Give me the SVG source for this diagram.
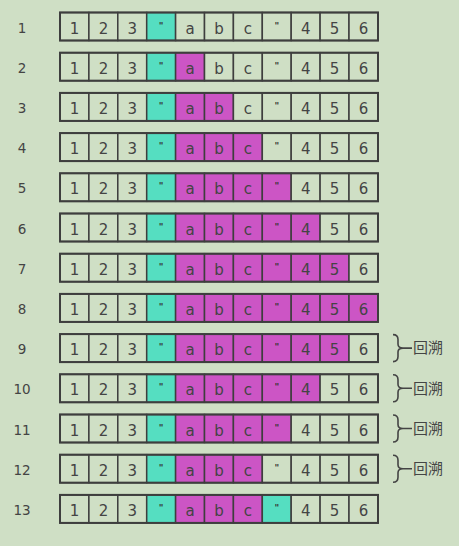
<svg xmlns="http://www.w3.org/2000/svg" width="459" height="546" viewBox="0 0 459 546">
<defs>
<style>
.bg{fill:#CFDFC5}
.c{fill:#CFDFC5;stroke:#3E3E3E;stroke-width:1.5}
.t{fill:#55DEC1;stroke:#3E3E3E;stroke-width:1.5}
.m{fill:#CC55C5;stroke:#3E3E3E;stroke-width:1.5}
.o{fill:none;stroke:#3E3E3E;stroke-width:2}
.x{font-family:"DejaVu Sans",sans-serif;font-size:15px;fill:#444;text-anchor:middle}
.q{font-family:"DejaVu Sans",sans-serif;font-size:9px;font-weight:bold;fill:#333;text-anchor:middle}
.l{font-family:"DejaVu Sans",sans-serif;font-size:13.5px;fill:#444;text-anchor:middle}
.b{fill:none;stroke:#444;stroke-width:1.6}
.h{font-family:"Noto Sans CJK SC",sans-serif;font-size:15px;fill:#444}
</style>
</defs>
<rect class="bg" x="0" y="0" width="459" height="546"/>

<g id="row1" transform="translate(0,12.5)">
<text class="l" x="22" y="20">1</text>
<rect class="c" x="60" y="0" width="28.9" height="28"/><rect class="c" x="88.9" y="0" width="28.9" height="28"/><rect class="c" x="117.8" y="0" width="28.9" height="28"/><rect class="t" x="146.7" y="0" width="28.9" height="28"/><rect class="c" x="175.6" y="0" width="28.9" height="28"/><rect class="c" x="204.5" y="0" width="28.9" height="28"/><rect class="c" x="233.4" y="0" width="28.9" height="28"/><rect class="c" x="262.3" y="0" width="28.9" height="28"/><rect class="c" x="291.2" y="0" width="28.9" height="28"/><rect class="c" x="320.1" y="0" width="28.9" height="28"/><rect class="c" x="349" y="0" width="28.9" height="28"/>
<rect class="o" x="60" y="0" width="318" height="28"/>
<text class="x" y="21"><tspan x="74.5">1</tspan><tspan x="103.4">2</tspan><tspan x="132.3">3</tspan><tspan x="190.1">a</tspan><tspan x="219">b</tspan><tspan x="247.9">c</tspan><tspan x="305.7">4</tspan><tspan x="334.6">5</tspan><tspan x="363.5">6</tspan></text>
<text class="q" y="16"><tspan x="161.2">"</tspan><tspan x="276.8">"</tspan></text>
</g>

<g id="row2" transform="translate(0,52.7)">
<text class="l" x="22" y="20">2</text>
<rect class="c" x="60" y="0" width="28.9" height="28"/><rect class="c" x="88.9" y="0" width="28.9" height="28"/><rect class="c" x="117.8" y="0" width="28.9" height="28"/><rect class="t" x="146.7" y="0" width="28.9" height="28"/><rect class="m" x="175.6" y="0" width="28.9" height="28"/><rect class="c" x="204.5" y="0" width="28.9" height="28"/><rect class="c" x="233.4" y="0" width="28.9" height="28"/><rect class="c" x="262.3" y="0" width="28.9" height="28"/><rect class="c" x="291.2" y="0" width="28.9" height="28"/><rect class="c" x="320.1" y="0" width="28.9" height="28"/><rect class="c" x="349" y="0" width="28.9" height="28"/>
<rect class="o" x="60" y="0" width="318" height="28"/>
<text class="x" y="21"><tspan x="74.5">1</tspan><tspan x="103.4">2</tspan><tspan x="132.3">3</tspan><tspan x="190.1">a</tspan><tspan x="219">b</tspan><tspan x="247.9">c</tspan><tspan x="305.7">4</tspan><tspan x="334.6">5</tspan><tspan x="363.5">6</tspan></text>
<text class="q" y="16"><tspan x="161.2">"</tspan><tspan x="276.8">"</tspan></text>
</g>

<g id="row3" transform="translate(0,92.9)">
<text class="l" x="22" y="20">3</text>
<rect class="c" x="60" y="0" width="28.9" height="28"/><rect class="c" x="88.9" y="0" width="28.9" height="28"/><rect class="c" x="117.8" y="0" width="28.9" height="28"/><rect class="t" x="146.7" y="0" width="28.9" height="28"/><rect class="m" x="175.6" y="0" width="28.9" height="28"/><rect class="m" x="204.5" y="0" width="28.9" height="28"/><rect class="c" x="233.4" y="0" width="28.9" height="28"/><rect class="c" x="262.3" y="0" width="28.9" height="28"/><rect class="c" x="291.2" y="0" width="28.9" height="28"/><rect class="c" x="320.1" y="0" width="28.9" height="28"/><rect class="c" x="349" y="0" width="28.9" height="28"/>
<rect class="o" x="60" y="0" width="318" height="28"/>
<text class="x" y="21"><tspan x="74.5">1</tspan><tspan x="103.4">2</tspan><tspan x="132.3">3</tspan><tspan x="190.1">a</tspan><tspan x="219">b</tspan><tspan x="247.9">c</tspan><tspan x="305.7">4</tspan><tspan x="334.6">5</tspan><tspan x="363.5">6</tspan></text>
<text class="q" y="16"><tspan x="161.2">"</tspan><tspan x="276.8">"</tspan></text>
</g>

<g id="row4" transform="translate(0,133.1)">
<text class="l" x="22" y="20">4</text>
<rect class="c" x="60" y="0" width="28.9" height="28"/><rect class="c" x="88.9" y="0" width="28.9" height="28"/><rect class="c" x="117.8" y="0" width="28.9" height="28"/><rect class="t" x="146.7" y="0" width="28.9" height="28"/><rect class="m" x="175.6" y="0" width="28.9" height="28"/><rect class="m" x="204.5" y="0" width="28.9" height="28"/><rect class="m" x="233.4" y="0" width="28.9" height="28"/><rect class="c" x="262.3" y="0" width="28.9" height="28"/><rect class="c" x="291.2" y="0" width="28.9" height="28"/><rect class="c" x="320.1" y="0" width="28.9" height="28"/><rect class="c" x="349" y="0" width="28.9" height="28"/>
<rect class="o" x="60" y="0" width="318" height="28"/>
<text class="x" y="21"><tspan x="74.5">1</tspan><tspan x="103.4">2</tspan><tspan x="132.3">3</tspan><tspan x="190.1">a</tspan><tspan x="219">b</tspan><tspan x="247.9">c</tspan><tspan x="305.7">4</tspan><tspan x="334.6">5</tspan><tspan x="363.5">6</tspan></text>
<text class="q" y="16"><tspan x="161.2">"</tspan><tspan x="276.8">"</tspan></text>
</g>

<g id="row5" transform="translate(0,173.3)">
<text class="l" x="22" y="20">5</text>
<rect class="c" x="60" y="0" width="28.9" height="28"/><rect class="c" x="88.9" y="0" width="28.9" height="28"/><rect class="c" x="117.8" y="0" width="28.9" height="28"/><rect class="t" x="146.7" y="0" width="28.9" height="28"/><rect class="m" x="175.6" y="0" width="28.9" height="28"/><rect class="m" x="204.5" y="0" width="28.9" height="28"/><rect class="m" x="233.4" y="0" width="28.9" height="28"/><rect class="m" x="262.3" y="0" width="28.9" height="28"/><rect class="c" x="291.2" y="0" width="28.9" height="28"/><rect class="c" x="320.1" y="0" width="28.9" height="28"/><rect class="c" x="349" y="0" width="28.9" height="28"/>
<rect class="o" x="60" y="0" width="318" height="28"/>
<text class="x" y="21"><tspan x="74.5">1</tspan><tspan x="103.4">2</tspan><tspan x="132.3">3</tspan><tspan x="190.1">a</tspan><tspan x="219">b</tspan><tspan x="247.9">c</tspan><tspan x="305.7">4</tspan><tspan x="334.6">5</tspan><tspan x="363.5">6</tspan></text>
<text class="q" y="16"><tspan x="161.2">"</tspan><tspan x="276.8">"</tspan></text>
</g>

<g id="row6" transform="translate(0,213.5)">
<text class="l" x="22" y="20">6</text>
<rect class="c" x="60" y="0" width="28.9" height="28"/><rect class="c" x="88.9" y="0" width="28.9" height="28"/><rect class="c" x="117.8" y="0" width="28.9" height="28"/><rect class="t" x="146.7" y="0" width="28.9" height="28"/><rect class="m" x="175.6" y="0" width="28.9" height="28"/><rect class="m" x="204.5" y="0" width="28.9" height="28"/><rect class="m" x="233.4" y="0" width="28.9" height="28"/><rect class="m" x="262.3" y="0" width="28.9" height="28"/><rect class="m" x="291.2" y="0" width="28.9" height="28"/><rect class="c" x="320.1" y="0" width="28.9" height="28"/><rect class="c" x="349" y="0" width="28.9" height="28"/>
<rect class="o" x="60" y="0" width="318" height="28"/>
<text class="x" y="21"><tspan x="74.5">1</tspan><tspan x="103.4">2</tspan><tspan x="132.3">3</tspan><tspan x="190.1">a</tspan><tspan x="219">b</tspan><tspan x="247.9">c</tspan><tspan x="305.7">4</tspan><tspan x="334.6">5</tspan><tspan x="363.5">6</tspan></text>
<text class="q" y="16"><tspan x="161.2">"</tspan><tspan x="276.8">"</tspan></text>
</g>

<g id="row7" transform="translate(0,253.7)">
<text class="l" x="22" y="20">7</text>
<rect class="c" x="60" y="0" width="28.9" height="28"/><rect class="c" x="88.9" y="0" width="28.9" height="28"/><rect class="c" x="117.8" y="0" width="28.9" height="28"/><rect class="t" x="146.7" y="0" width="28.9" height="28"/><rect class="m" x="175.6" y="0" width="28.9" height="28"/><rect class="m" x="204.5" y="0" width="28.9" height="28"/><rect class="m" x="233.4" y="0" width="28.9" height="28"/><rect class="m" x="262.3" y="0" width="28.9" height="28"/><rect class="m" x="291.2" y="0" width="28.9" height="28"/><rect class="m" x="320.1" y="0" width="28.9" height="28"/><rect class="c" x="349" y="0" width="28.9" height="28"/>
<rect class="o" x="60" y="0" width="318" height="28"/>
<text class="x" y="21"><tspan x="74.5">1</tspan><tspan x="103.4">2</tspan><tspan x="132.3">3</tspan><tspan x="190.1">a</tspan><tspan x="219">b</tspan><tspan x="247.9">c</tspan><tspan x="305.7">4</tspan><tspan x="334.6">5</tspan><tspan x="363.5">6</tspan></text>
<text class="q" y="16"><tspan x="161.2">"</tspan><tspan x="276.8">"</tspan></text>
</g>

<g id="row8" transform="translate(0,293.9)">
<text class="l" x="22" y="20">8</text>
<rect class="c" x="60" y="0" width="28.9" height="28"/><rect class="c" x="88.9" y="0" width="28.9" height="28"/><rect class="c" x="117.8" y="0" width="28.9" height="28"/><rect class="t" x="146.7" y="0" width="28.9" height="28"/><rect class="m" x="175.6" y="0" width="28.9" height="28"/><rect class="m" x="204.5" y="0" width="28.9" height="28"/><rect class="m" x="233.4" y="0" width="28.9" height="28"/><rect class="m" x="262.3" y="0" width="28.9" height="28"/><rect class="m" x="291.2" y="0" width="28.9" height="28"/><rect class="m" x="320.1" y="0" width="28.9" height="28"/><rect class="m" x="349" y="0" width="28.9" height="28"/>
<rect class="o" x="60" y="0" width="318" height="28"/>
<text class="x" y="21"><tspan x="74.5">1</tspan><tspan x="103.4">2</tspan><tspan x="132.3">3</tspan><tspan x="190.1">a</tspan><tspan x="219">b</tspan><tspan x="247.9">c</tspan><tspan x="305.7">4</tspan><tspan x="334.6">5</tspan><tspan x="363.5">6</tspan></text>
<text class="q" y="16"><tspan x="161.2">"</tspan><tspan x="276.8">"</tspan></text>
</g>

<g id="row9" transform="translate(0,334.1)">
<text class="l" x="22" y="20">9</text>
<rect class="c" x="60" y="0" width="28.9" height="28"/><rect class="c" x="88.9" y="0" width="28.9" height="28"/><rect class="c" x="117.8" y="0" width="28.9" height="28"/><rect class="t" x="146.7" y="0" width="28.9" height="28"/><rect class="m" x="175.6" y="0" width="28.9" height="28"/><rect class="m" x="204.5" y="0" width="28.9" height="28"/><rect class="m" x="233.4" y="0" width="28.9" height="28"/><rect class="m" x="262.3" y="0" width="28.9" height="28"/><rect class="m" x="291.2" y="0" width="28.9" height="28"/><rect class="m" x="320.1" y="0" width="28.9" height="28"/><rect class="c" x="349" y="0" width="28.9" height="28"/>
<rect class="o" x="60" y="0" width="318" height="28"/>
<text class="x" y="21"><tspan x="74.5">1</tspan><tspan x="103.4">2</tspan><tspan x="132.3">3</tspan><tspan x="190.1">a</tspan><tspan x="219">b</tspan><tspan x="247.9">c</tspan><tspan x="305.7">4</tspan><tspan x="334.6">5</tspan><tspan x="363.5">6</tspan></text>
<text class="q" y="16"><tspan x="161.2">"</tspan><tspan x="276.8">"</tspan></text>
<path class="b" d="M393,0.5 Q398,0.5 398,5.5 L398,10 Q398,14 403,14 Q398,14 398,18 L398,22.5 Q398,27.5 393,27.5 M403,14 L412,14"/>
<text class="h" x="413" y="19.3">回溯</text>
</g>

<g id="row10" transform="translate(0,374.3)">
<text class="l" x="22" y="20">10</text>
<rect class="c" x="60" y="0" width="28.9" height="28"/><rect class="c" x="88.9" y="0" width="28.9" height="28"/><rect class="c" x="117.8" y="0" width="28.9" height="28"/><rect class="t" x="146.7" y="0" width="28.9" height="28"/><rect class="m" x="175.6" y="0" width="28.9" height="28"/><rect class="m" x="204.5" y="0" width="28.9" height="28"/><rect class="m" x="233.4" y="0" width="28.9" height="28"/><rect class="m" x="262.3" y="0" width="28.9" height="28"/><rect class="m" x="291.2" y="0" width="28.9" height="28"/><rect class="c" x="320.1" y="0" width="28.9" height="28"/><rect class="c" x="349" y="0" width="28.9" height="28"/>
<rect class="o" x="60" y="0" width="318" height="28"/>
<text class="x" y="21"><tspan x="74.5">1</tspan><tspan x="103.4">2</tspan><tspan x="132.3">3</tspan><tspan x="190.1">a</tspan><tspan x="219">b</tspan><tspan x="247.9">c</tspan><tspan x="305.7">4</tspan><tspan x="334.6">5</tspan><tspan x="363.5">6</tspan></text>
<text class="q" y="16"><tspan x="161.2">"</tspan><tspan x="276.8">"</tspan></text>
<path class="b" d="M393,0.5 Q398,0.5 398,5.5 L398,10 Q398,14 403,14 Q398,14 398,18 L398,22.5 Q398,27.5 393,27.5 M403,14 L412,14"/>
<text class="h" x="413" y="19.3">回溯</text>
</g>

<g id="row11" transform="translate(0,414.5)">
<text class="l" x="22" y="20">11</text>
<rect class="c" x="60" y="0" width="28.9" height="28"/><rect class="c" x="88.9" y="0" width="28.9" height="28"/><rect class="c" x="117.8" y="0" width="28.9" height="28"/><rect class="t" x="146.7" y="0" width="28.9" height="28"/><rect class="m" x="175.6" y="0" width="28.9" height="28"/><rect class="m" x="204.5" y="0" width="28.9" height="28"/><rect class="m" x="233.4" y="0" width="28.9" height="28"/><rect class="m" x="262.3" y="0" width="28.9" height="28"/><rect class="c" x="291.2" y="0" width="28.9" height="28"/><rect class="c" x="320.1" y="0" width="28.9" height="28"/><rect class="c" x="349" y="0" width="28.9" height="28"/>
<rect class="o" x="60" y="0" width="318" height="28"/>
<text class="x" y="21"><tspan x="74.5">1</tspan><tspan x="103.4">2</tspan><tspan x="132.3">3</tspan><tspan x="190.1">a</tspan><tspan x="219">b</tspan><tspan x="247.9">c</tspan><tspan x="305.7">4</tspan><tspan x="334.6">5</tspan><tspan x="363.5">6</tspan></text>
<text class="q" y="16"><tspan x="161.2">"</tspan><tspan x="276.8">"</tspan></text>
<path class="b" d="M393,0.5 Q398,0.5 398,5.5 L398,10 Q398,14 403,14 Q398,14 398,18 L398,22.5 Q398,27.5 393,27.5 M403,14 L412,14"/>
<text class="h" x="413" y="19.3">回溯</text>
</g>

<g id="row12" transform="translate(0,454.7)">
<text class="l" x="22" y="20">12</text>
<rect class="c" x="60" y="0" width="28.9" height="28"/><rect class="c" x="88.9" y="0" width="28.9" height="28"/><rect class="c" x="117.8" y="0" width="28.9" height="28"/><rect class="t" x="146.7" y="0" width="28.9" height="28"/><rect class="m" x="175.6" y="0" width="28.9" height="28"/><rect class="m" x="204.5" y="0" width="28.9" height="28"/><rect class="m" x="233.4" y="0" width="28.9" height="28"/><rect class="c" x="262.3" y="0" width="28.9" height="28"/><rect class="c" x="291.2" y="0" width="28.9" height="28"/><rect class="c" x="320.1" y="0" width="28.9" height="28"/><rect class="c" x="349" y="0" width="28.9" height="28"/>
<rect class="o" x="60" y="0" width="318" height="28"/>
<text class="x" y="21"><tspan x="74.5">1</tspan><tspan x="103.4">2</tspan><tspan x="132.3">3</tspan><tspan x="190.1">a</tspan><tspan x="219">b</tspan><tspan x="247.9">c</tspan><tspan x="305.7">4</tspan><tspan x="334.6">5</tspan><tspan x="363.5">6</tspan></text>
<text class="q" y="16"><tspan x="161.2">"</tspan><tspan x="276.8">"</tspan></text>
<path class="b" d="M393,0.5 Q398,0.5 398,5.5 L398,10 Q398,14 403,14 Q398,14 398,18 L398,22.5 Q398,27.5 393,27.5 M403,14 L412,14"/>
<text class="h" x="413" y="19.3">回溯</text>
</g>

<g id="row13" transform="translate(0,494.9)">
<text class="l" x="22" y="20">13</text>
<rect class="c" x="60" y="0" width="28.9" height="28"/><rect class="c" x="88.9" y="0" width="28.9" height="28"/><rect class="c" x="117.8" y="0" width="28.9" height="28"/><rect class="t" x="146.7" y="0" width="28.9" height="28"/><rect class="m" x="175.6" y="0" width="28.9" height="28"/><rect class="m" x="204.5" y="0" width="28.9" height="28"/><rect class="m" x="233.4" y="0" width="28.9" height="28"/><rect class="t" x="262.3" y="0" width="28.9" height="28"/><rect class="c" x="291.2" y="0" width="28.9" height="28"/><rect class="c" x="320.1" y="0" width="28.9" height="28"/><rect class="c" x="349" y="0" width="28.9" height="28"/>
<rect class="o" x="60" y="0" width="318" height="28"/>
<text class="x" y="21"><tspan x="74.5">1</tspan><tspan x="103.4">2</tspan><tspan x="132.3">3</tspan><tspan x="190.1">a</tspan><tspan x="219">b</tspan><tspan x="247.9">c</tspan><tspan x="305.7">4</tspan><tspan x="334.6">5</tspan><tspan x="363.5">6</tspan></text>
<text class="q" y="16"><tspan x="161.2">"</tspan><tspan x="276.8">"</tspan></text>
</g>
</svg>
